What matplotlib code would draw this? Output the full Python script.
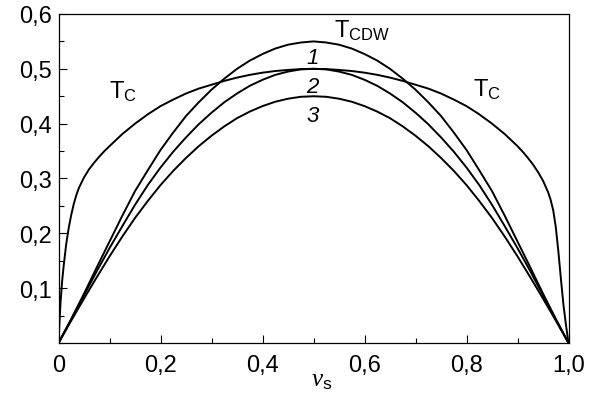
import matplotlib
matplotlib.use("Agg")
import matplotlib.pyplot as plt
from matplotlib.ticker import MultipleLocator, FuncFormatter

plt.rcParams['font.family'] = ['Liberation Sans', 'DejaVu Sans']
plt.rcParams['mathtext.fontset'] = 'custom'
plt.rcParams['mathtext.rm'] = 'Liberation Sans'
plt.rcParams['mathtext.it'] = 'Liberation Serif:italic'

# T_c curve
x_tc = [0.0, 0.002, 0.004, 0.007, 0.01, 0.015, 0.02, 0.025, 0.03, 0.035, 0.04, 0.05,
        0.06, 0.07, 0.08, 0.09, 0.1, 0.125, 0.15, 0.175, 0.2, 0.225, 0.25, 0.275,
        0.3, 0.325, 0.35, 0.375, 0.4, 0.425, 0.45, 0.475, 0.5,
        0.525, 0.55, 0.575, 0.6, 0.625, 0.65, 0.675, 0.7, 0.725, 0.75, 0.775, 0.8,
        0.825, 0.85, 0.875, 0.9, 0.91, 0.92, 0.93, 0.94, 0.95, 0.96, 0.965, 0.97,
        0.975, 0.98, 0.985, 0.99, 0.995, 1.0]
y_tc = [0.0, 0.04, 0.075, 0.112, 0.14, 0.18, 0.21, 0.234, 0.254, 0.27, 0.283, 0.302,
        0.317, 0.329, 0.34, 0.35, 0.359, 0.381, 0.4, 0.417, 0.432, 0.444, 0.455, 0.464,
        0.471, 0.478, 0.484, 0.489, 0.493, 0.496, 0.498, 0.4995, 0.5,
        0.4995, 0.498, 0.496, 0.493, 0.489, 0.484, 0.478, 0.471, 0.464, 0.455, 0.444, 0.432,
        0.417, 0.4, 0.381, 0.359, 0.349, 0.338, 0.326, 0.312, 0.296, 0.275, 0.261, 0.242,
        0.212, 0.168, 0.118, 0.07, 0.033, 0.0]

# T_CDW curves 1, 2, 3
x_cdw = [0.0, 0.025, 0.05, 0.075, 0.1, 0.125, 0.15, 0.175, 0.2, 0.225, 0.25, 0.275,
         0.3, 0.325, 0.35, 0.375, 0.4, 0.425, 0.45, 0.475, 0.5,
         0.525, 0.55, 0.575, 0.6, 0.625, 0.65, 0.675, 0.7, 0.725, 0.75, 0.775,
         0.8, 0.825, 0.85, 0.875, 0.9, 0.925, 0.95, 0.975, 1.0]
y_cdw1 = [0.0, 0.044, 0.09, 0.138, 0.185, 0.232, 0.277, 0.315, 0.352, 0.384, 0.414, 0.439,
          0.462, 0.482, 0.5, 0.515, 0.527, 0.537, 0.544, 0.548, 0.55,
          0.548, 0.544, 0.537, 0.527, 0.515, 0.5, 0.482, 0.462, 0.439, 0.414, 0.384,
          0.352, 0.315, 0.277, 0.232, 0.185, 0.138, 0.09, 0.044, 0.0]
y_cdw2 = [0.0, 0.043, 0.087, 0.131, 0.173, 0.213, 0.252, 0.288, 0.32, 0.349, 0.375, 0.399,
          0.42, 0.439, 0.455, 0.469, 0.48, 0.489, 0.495, 0.499, 0.5,
          0.499, 0.495, 0.489, 0.48, 0.469, 0.455, 0.439, 0.42, 0.399, 0.375, 0.349,
          0.32, 0.288, 0.252, 0.213, 0.173, 0.131, 0.087, 0.043, 0.0]
y_cdw3 = [0.0, 0.041, 0.081, 0.12, 0.158, 0.194, 0.228, 0.259, 0.288, 0.314, 0.3375, 0.359,
          0.378, 0.395, 0.41, 0.422, 0.432, 0.44, 0.4455, 0.449, 0.45,
          0.449, 0.4455, 0.44, 0.432, 0.422, 0.41, 0.395, 0.378, 0.359, 0.3375, 0.314,
          0.288, 0.259, 0.228, 0.194, 0.158, 0.12, 0.081, 0.041, 0.0]

x_ticks = [0.0, 0.2, 0.4, 0.6, 0.8, 1.0]
y_ticks = [0.1, 0.2, 0.3, 0.4, 0.5, 0.6]

fig = plt.figure(figsize=(5.93, 4.02), dpi=100)
ax = fig.add_axes([0.0987, 0.1443, 0.86, 0.8184])

lw = 1.4
ax.plot(x_tc, y_tc, color='black', lw=lw)
ax.plot(x_cdw, y_cdw1, color='black', lw=lw)
ax.plot(x_cdw, y_cdw2, color='black', lw=lw)
ax.plot(x_cdw, y_cdw3, color='black', lw=lw)

ax.set_xlim(0, 1.0)
ax.set_ylim(0, 0.6)
ax.set_xticks(x_ticks)
ax.set_yticks(y_ticks)
ax.xaxis.set_minor_locator(MultipleLocator(0.1))
ax.yaxis.set_minor_locator(MultipleLocator(0.05))

def fmt(v, pos):
    if abs(v) < 1e-9:
        return '0'
    return f'{v:.1f}'.replace('.', ',')

ax.xaxis.set_major_formatter(FuncFormatter(fmt))
ax.yaxis.set_major_formatter(FuncFormatter(fmt))
ax.tick_params(which='both', direction='in', top=False, right=False, labelsize=17, width=0.8)
ax.tick_params(which='major', length=6)
ax.tick_params(which='minor', length=3.5)
ax.tick_params(axis='x', which='major', pad=8)
ax.tick_params(axis='y', which='major', pad=5)
for s in ax.spines.values():
    s.set_linewidth(0.9)

ax.text(0.515, -0.128, r'$\mathit{\nu}_\mathrm{s}$', fontsize=18, ha='center', va='baseline',
        transform=ax.transAxes)

fs = 17
ax.text(0.099, 0.447, r'T$_\mathrm{C}$', fontsize=fs, ha='left', va='baseline')
ax.text(0.813, 0.451, r'T$_\mathrm{C}$', fontsize=fs, ha='left', va='baseline')
ax.text(0.54, 0.558, r'T$_\mathrm{CDW}$', fontsize=fs, ha='left', va='baseline')
ax.text(0.498, 0.511, '1', fontsize=16, style='italic', ha='center', va='baseline')
ax.text(0.498, 0.458, '2', fontsize=16, style='italic', ha='center', va='baseline')
ax.text(0.498, 0.405, '3', fontsize=16, style='italic', ha='center', va='baseline')

fig.savefig('out.png', dpi=100)
